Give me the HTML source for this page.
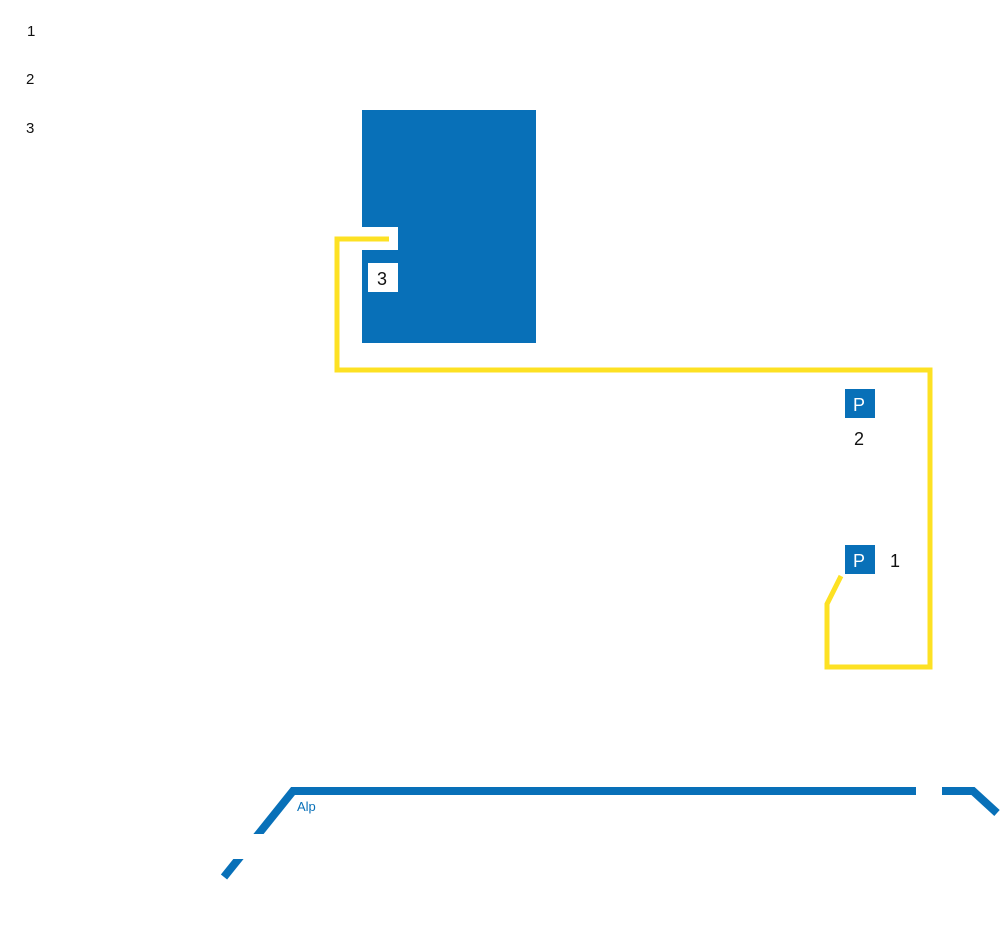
<!DOCTYPE html>
<html><head><style>
body{margin:0;width:1000px;height:925px;background:#fff;position:relative;overflow:hidden;font-family:"Liberation Sans",sans-serif}
</style></head><body>
<svg width="1000" height="925" style="position:absolute;left:0;top:0">
<rect x="362" y="110" width="174" height="233" fill="#0870b8"/>
<rect x="362" y="227" width="36" height="23" fill="#fff"/>
<rect x="368" y="263" width="30" height="29" fill="#fff"/>
<polyline points="389,239 337,239 337,370 930,370 930,667 827,667 827,604 841,576" fill="none" stroke="#fde123" stroke-width="5"/>
<polyline points="224,877 293,791 916,791" fill="none" stroke="#0870b8" stroke-width="8"/>
<rect x="200" y="834" width="80" height="25" fill="#fff"/>
<polyline points="942,791 973,791 997,813" fill="none" stroke="#0870b8" stroke-width="8"/>
<rect x="845" y="389" width="30" height="29" fill="#0870b8"/>
<rect x="845" y="545" width="30" height="29" fill="#0870b8"/>
<text x="859" y="411" font-size="18" fill="#fff" text-anchor="middle" font-family="Liberation Sans">P</text>
<text x="859" y="567" font-size="18" fill="#fff" text-anchor="middle" font-family="Liberation Sans">P</text>
<text x="382" y="285" font-size="18" fill="#111" text-anchor="middle" font-family="Liberation Sans">3</text>
<text x="859" y="445" font-size="18" fill="#111" text-anchor="middle" font-family="Liberation Sans">2</text>
<text x="895" y="567" font-size="18" fill="#111" text-anchor="middle" font-family="Liberation Sans">1</text>
<text x="297" y="811" font-size="13" fill="#0870b8" font-family="Liberation Sans">Alp</text>
<text x="27" y="36" font-size="15" fill="#111" font-family="Liberation Sans">1</text>
<text x="26" y="84" font-size="15" fill="#111" font-family="Liberation Sans">2</text>
<text x="26" y="133" font-size="15" fill="#111" font-family="Liberation Sans">3</text>
</svg>
</body></html>
